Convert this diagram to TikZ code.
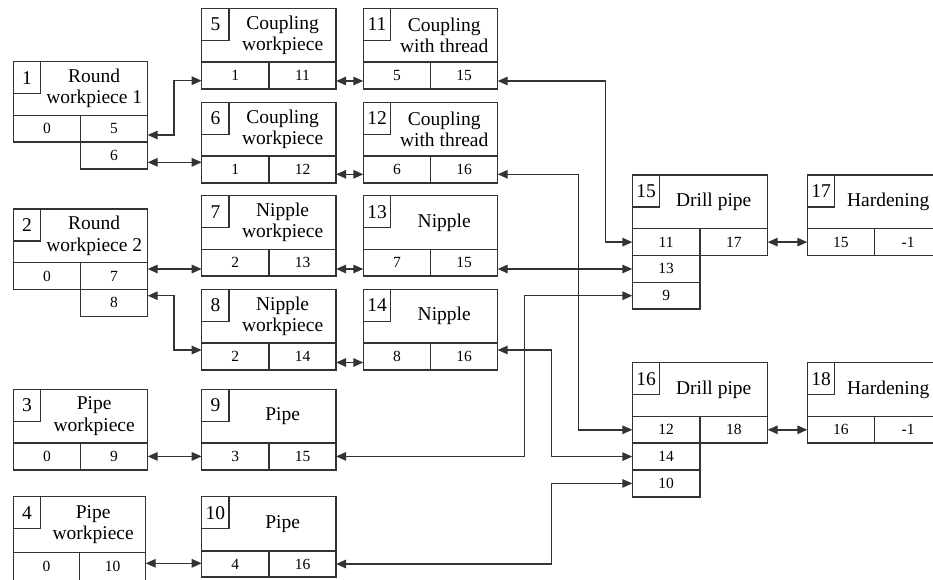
\documentclass[tikz,border=0pt]{standalone}
\usepackage{fontspec}
\setmainfont{Liberation Serif}
\usetikzlibrary{arrows.meta,calc}
\newcommand\ttlfont{\fontsize{19.5}{21.5}\selectfont}
\newcommand\cellfont{\fontsize{15.5}{17}\selectfont}
\newcommand\bw{134.4}
\newcommand\hh{53.7}
\newcommand\rh{26.8}
\tikzset{
  frame/.style={draw=black!80, line width=1.5pt, rectangle, inner sep=0pt, outer sep=0pt},
  numsq/.style={frame, minimum width=27.4pt, minimum height=32pt, font=\ttlfont},
  ttl/.style={align=center, font=\ttlfont, inner sep=0pt},
  cell/.style={frame, font=\cellfont, minimum width=0.5*\bw pt, minimum height=\rh pt},
  conn/.style={draw=black!80, line width=1.4pt,
    {Triangle[length=10pt,width=8.5pt]}-{Triangle[length=10pt,width=8.5pt]}},
}
\newcommand\opbox[6]{%
  \node[frame, minimum width=\bw pt, minimum height=\hh pt, anchor=north west] (h#1) at (#2,#3) {};
  \node[numsq, anchor=north west] (n#1) at (h#1.north west) {#1};
  \node[ttl] (t#1) at ($(n#1.east |- h#1.center)!0.5!(h#1.east)$) {#4};
  \node[cell, anchor=north west] (a#1) at (h#1.south west) {#5};
  \node[cell, anchor=north west] (b#1) at (a#1.north east) {#6};
}
\begin{document}
\begin{tikzpicture}[x=1pt,y=-1pt]
\useasboundingbox (0,0) rectangle (933,579);
\clip (0,0) rectangle (933,579);
% column 1
\opbox{1}{13.3}{61.7}{Round\\workpiece 1}{0}{5}
\node[cell, anchor=north west] (c1) at (b1.south west) {6};
\opbox{2}{13.3}{209}{Round\\workpiece 2}{0}{7}
\node[cell, anchor=north west] (c2) at (b2.south west) {8};
\opbox{3}{13.3}{389.3}{Pipe\\workpiece}{0}{9}
\renewcommand\bw{132.4}\renewcommand\hh{55.6}\renewcommand\rh{28}
\opbox{4}{13.3}{496.7}{Pipe\\workpiece}{0}{10}
\renewcommand\bw{134.4}\renewcommand\hh{53.7}\renewcommand\rh{26.8}
% column 2
\opbox{5}{201.7}{8.3}{Coupling\\workpiece}{1}{11}
\opbox{6}{201.7}{102.3}{Coupling\\workpiece}{1}{12}
\opbox{7}{201.7}{195.7}{Nipple\\workpiece}{2}{13}
\opbox{8}{201.7}{289.3}{Nipple\\workpiece}{2}{14}
\opbox{9}{201.7}{389.3}{Pipe}{3}{15}
\renewcommand\hh{54.3}\renewcommand\rh{26}
\opbox{10}{201.7}{496.7}{Pipe}{4}{16}
\renewcommand\hh{53.7}\renewcommand\rh{26.8}
% column 3
\opbox{11}{363.3}{8.3}{Coupling\\with thread}{5}{15}
\opbox{12}{363.3}{102.3}{Coupling\\with thread}{6}{16}
\opbox{13}{363.3}{195.7}{Nipple}{7}{15}
\opbox{14}{363.3}{289.3}{Nipple}{8}{16}
% column 4
\renewcommand\bw{135.4}
\opbox{15}{632.3}{175}{Drill pipe}{11}{17}
\node[cell, anchor=north west] (c15) at (a15.south west) {13};
\node[cell, anchor=north west] (d15) at (c15.south west) {9};
\opbox{16}{632.3}{362.7}{Drill pipe}{12}{18}
\node[cell, anchor=north west] (c16) at (a16.south west) {14};
\node[cell, anchor=north west] (d16) at (c16.south west) {10};
\renewcommand\bw{134.4}
% column 5
\opbox{17}{807.3}{175}{Hardening}{15}{-1}
\opbox{18}{807.3}{362.7}{Hardening}{16}{-1}
% connectors
\draw[conn] ([yshift=-6.2pt]b1.east) -- ++(26.3,0) |- ([yshift=-5.3pt]a5.west);
\draw[conn] ([yshift=-6.7pt]c1.east) -- ([yshift=-6.7pt]c1.east -| a6.west);
\draw[conn] ([yshift=-5.6pt]b5.east) -- ([yshift=-5.6pt]b5.east -| a11.west);
\draw[conn] ([yshift=-4.9pt]b6.east) -- ([yshift=-4.9pt]b6.east -| a12.west);
\draw[conn] ([yshift=-5.6pt]b11.east) -- ++(107.6,0) |- (a15.west);
\draw[conn] ([yshift=-4.9pt]b12.east) -- ++(80.6,0) |- (a16.west);
\draw[conn] ([yshift=7.1pt]b2.east) -- ([yshift=7.1pt]b2.east -| a7.west);
\draw[conn] ([yshift=7.2pt]c2.east) -- ++(26.3,0) |- ([yshift=6.4pt]a8.west);
\draw[conn] ([yshift=-6.2pt]b7.east) -- ([yshift=-6.2pt]b7.east -| a13.west);
\draw[conn] ([yshift=-6.1pt]b8.east) -- ([yshift=-6.1pt]b8.east -| a14.west);
\draw[conn] ([yshift=-6.2pt]b13.east) -- ([yshift=-6.2pt]b13.east -| c15.west);
\draw[conn] ([yshift=6.4pt]b14.east) -- ++(54,0) |- (c16.west);
\draw[conn] (b9.east) -- ++(188.3,0) |- (d15.west);
\draw[conn] (b10.east) -- ++(215.6,0) |- (d16.west);
\draw[conn] (b3.east) -- (b3.east -| a9.west);
\draw[conn] ([yshift=3pt]b4.east) -- ([yshift=3pt]b4.east -| a10.west);
\draw[conn] (b15.east) -- (b15.east -| a17.west);
\draw[conn] (b16.east) -- (b16.east -| a18.west);
\end{tikzpicture}
\end{document}
